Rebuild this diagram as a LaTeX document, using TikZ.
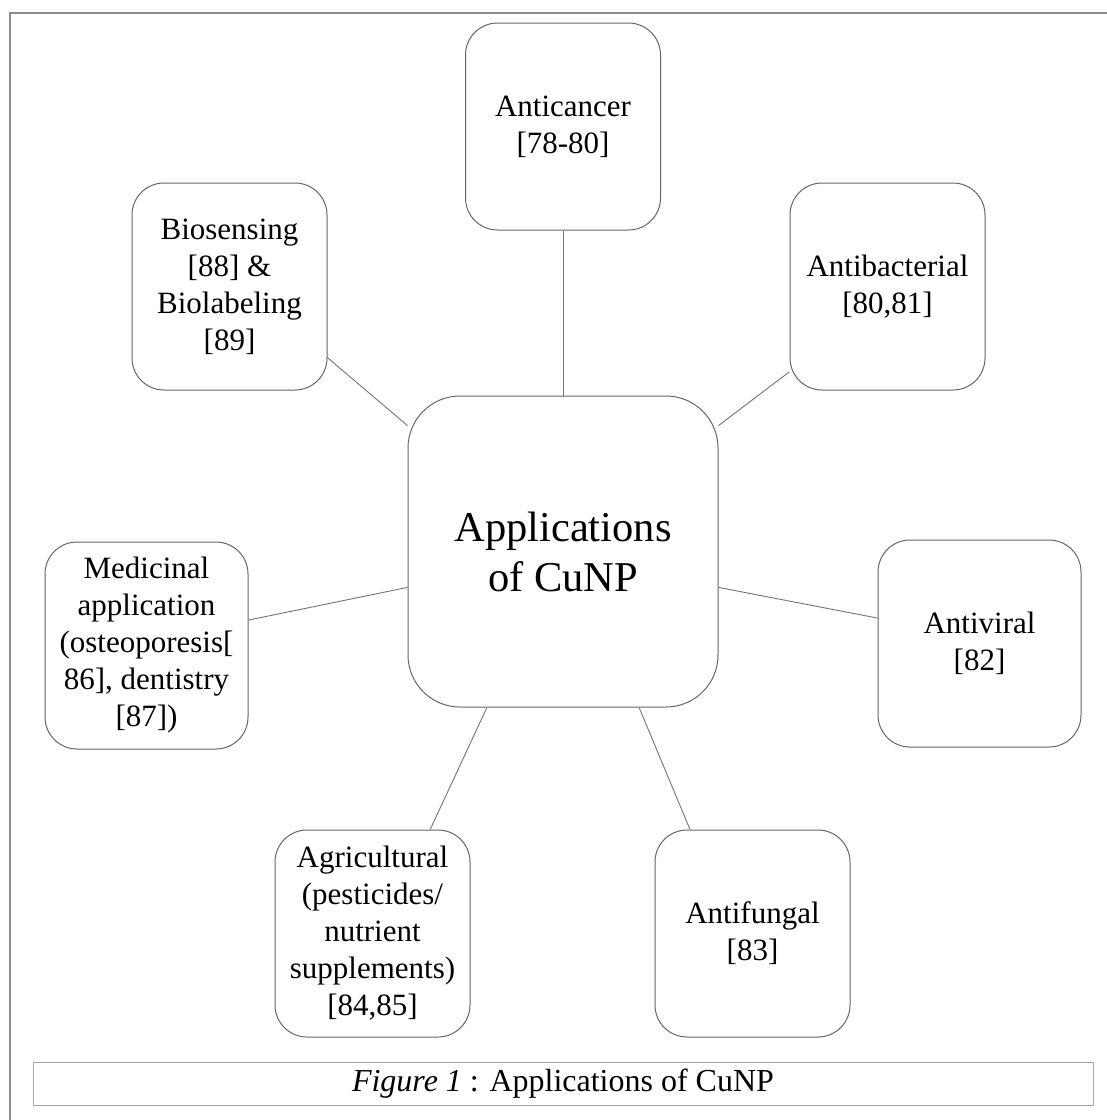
\documentclass[tikz,border=0pt]{standalone}
\usepackage{fontspec}
\setmainfont{Liberation Serif}
\usetikzlibrary{positioning}

\begin{document}
\begin{tikzpicture}[x = 0.5pt, y = -0.5pt,
  app/.style = {draw = black!60, line width = 0.5pt, shape = rectangle, rounded corners = 16pt, minimum width = 97.5pt, minimum height = 103.5pt, inner sep = 0pt, align = center, font = \fontsize{15.5}{18.5}\selectfont},
  link/.style = {draw = black!55, line width = 0.45pt}]
\useasboundingbox (0,0) rectangle (1107,1120);
\draw[black!45, line width = 0.8pt] (10,1120) -- (10,13) -- (1107,13);

\node[app, draw = black!60, rounded corners = 26pt, minimum width = 155pt, minimum height = 155.5pt, font = \fontsize{21.25}{25}\selectfont] (cunp) at (563,551.5) {Applications\\of CuNP};
\node[app] (cancer) at (563,126.5) {Anticancer\\{}[78-80]};
\node[app] (bact) at (887.5,286.5) {Antibacterial\\{}[80,81]};
\node[app] (bio) at (229.5,286.5) {Biosensing\\{}[88] \&\\Biolabeling\\{}[89]};
\node[app, minimum width = 101.5pt] (med) at (146.5,645.5) {Medicinal\\application\\(osteoporesis[\\86], dentistry\\{}[87])};
\node[app, minimum width = 101.5pt] (vir) at (979.5,643.5) {Antiviral\\{}[82]};
\node[app] (agr) at (372.5,933.5) {Agricultural\\(pesticides/\\nutrient\\supplements)\\{}[84,85]};
\node[app] (fun) at (752.5,933.5) {Antifungal\\{}[83]};

\draw[link] (cancer.south) -- (cunp.north);
\draw[link] (bact.221) -- (cunp.39);
\draw[link] (bio.-36) -- (cunp.141);
\draw[link] (med.14) -- (cunp.193);
\draw[link] (vir.166) -- (cunp.-13);
\draw[link] (agr.61) -- (cunp.244);
\draw[link] (fun.121) -- (cunp.-64);

\node[draw = black!35, line width = 0.5pt, minimum width = 530pt, minimum height = 21.5pt, inner sep = 0pt, font = \fontsize{16}{19}\selectfont] (caption) at (563,1083.5) {\textit{Figure 1} : Applications of CuNP};
\end{tikzpicture}
\end{document}
